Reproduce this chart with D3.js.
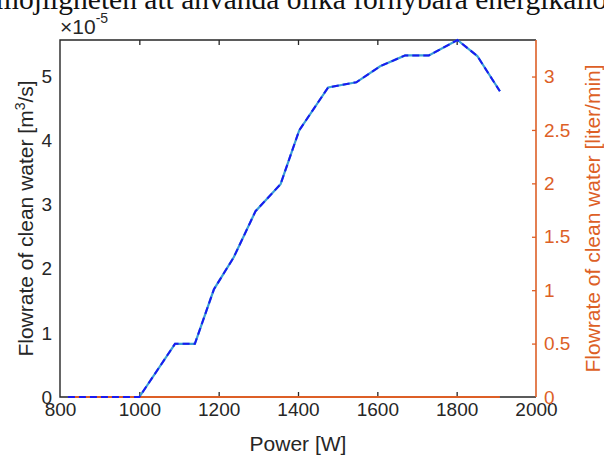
<!DOCTYPE html>
<html>
<head>
<meta charset="utf-8">
<script src="https://cdn.jsdelivr.net/npm/d3@7"></script>
<style>
  body { margin: 0; background: #fff; }
  svg { display: block; }
</style>
</head>
<body>
<div id="Container"></div>
<script>
// power [W] and flowrate of clean water (x 1e-5 m3/s)
var power = [820, 1000, 1090, 1140, 1188, 1238, 1293, 1356, 1403, 1476, 1547, 1607, 1670, 1730, 1802, 1852, 1909];
var flow = [0, 0, 0.83, 0.83, 1.68, 2.18, 2.90, 3.32, 4.16, 4.83, 4.91, 5.16, 5.33, 5.33, 5.57, 5.32, 4.77];
// series on the right axis (sits on zero in the figure)
var flowRight = [0, 0, 0, 0, 0, 0, 0, 0, 0, 0, 0, 0, 0, 0, 0, 0, 0];

var xTicks = [800, 1000, 1200, 1400, 1600, 1800, 2000];
var yTicksL = [0, 1, 2, 3, 4, 5];
var yTicksR = [0, 0.5, 1, 1.5, 2, 2.5, 3];
var topText = "möjligheten att använda olika förnybara energikällor";

var W = 604, H = 456;
var m = { left: 60, right: 536, top: 40, bottom: 397 };
var orange = "#DD5F26", dark = "#262626";
var font = "'Liberation Sans', Arial, sans-serif";

var svg = d3.select("#Container").append("svg")
    .attr("width", W)
    .attr("height", H);

// piece of the surrounding page text, cut at the top
svg.append("text")
    .attr("x", -4)
    .attr("y", 9)
    .attr("font-family", "'Liberation Serif', 'Times New Roman', serif")
    .attr("font-size", 29.5)
    .attr("fill", "#111")
    .text(topText);

var x = d3.scaleLinear().domain([800, 2000]).range([m.left, m.right]);
var yL = d3.scaleLinear().domain([0, 5.57]).range([m.bottom, m.top]);
var yR = d3.scaleLinear().domain([0, 5.57 * 0.6]).range([m.bottom, m.top]);

// bottom axis: labels, ticks pointing in
var xAx = svg.append("g")
    .attr("transform", "translate(0," + m.bottom + ")")
    .call(d3.axisBottom(x).tickValues(xTicks).tickSize(-5).tickPadding(5).tickFormat(d3.format("d")));
xAx.select(".domain").remove();
xAx.selectAll("line").attr("stroke", dark).attr("stroke-width", 1.3);
xAx.selectAll("text")
    .attr("font-family", font).attr("font-size", 19).attr("fill", dark)
    .attr("dy", "0.71em").attr("y", 6);
xAx.selectAll(".tick").filter(function(d) { return d == 800 || d == 2000; }).select("line").remove();

// top ticks
var xTop = svg.append("g")
    .attr("transform", "translate(0," + m.top + ")")
    .call(d3.axisTop(x).tickValues(xTicks.slice(1, -1)).tickSize(-5).tickFormat(""));
xTop.select(".domain").remove();
xTop.selectAll("line").attr("stroke", dark).attr("stroke-width", 1.3);

// left axis labels
var yAx = svg.append("g")
    .attr("transform", "translate(" + m.left + ",0)")
    .call(d3.axisLeft(yL).tickValues(yTicksL).tickSize(0).tickPadding(8).tickFormat(d3.format("d")));
yAx.select(".domain").remove();
yAx.selectAll("text").attr("font-family", font).attr("font-size", 19).attr("fill", dark);

// right axis, orange
var yAxR = svg.append("g")
    .attr("transform", "translate(" + m.right + ",0)")
    .call(d3.axisRight(yR).tickValues(yTicksR).tickSize(-4).tickPadding(8).tickFormat(d3.format("~g")));
yAxR.select(".domain").remove();
yAxR.selectAll("line").attr("stroke", orange).attr("stroke-width", 1.3);
yAxR.selectAll("text").attr("font-family", font).attr("font-size", 19).attr("fill", orange);
yAxR.selectAll(".tick").filter(function(d) { return d == 0; }).select("line").remove();

// box
svg.append("path")
    .attr("d", "M" + m.right + "," + m.bottom + "H" + m.left + "V" + m.top + "H" + m.right)
    .attr("fill", "none").attr("stroke", dark).attr("stroke-width", 1.4);
svg.append("line")
    .attr("x1", m.right).attr("y1", m.top).attr("x2", m.right).attr("y2", m.bottom)
    .attr("stroke", orange).attr("stroke-width", 1.6);

// lines
var lineL = d3.line().x(function(d, i) { return x(power[i]); }).y(function(d) { return yL(d); });
var lineR = d3.line().x(function(d, i) { return x(power[i]); }).y(function(d) { return yR(d); });

svg.append("path")
    .datum(flow)
    .attr("d", lineL)
    .attr("fill", "none")
    .attr("stroke", "#3A9FD6")
    .attr("stroke-width", 2.2);

svg.append("path")
    .datum(flowRight)
    .attr("d", lineR)
    .attr("fill", "none")
    .attr("stroke", orange)
    .attr("stroke-width", 2);

svg.append("path")
    .datum(flow)
    .attr("d", lineL)
    .attr("fill", "none")
    .attr("stroke", "#1A1AF0")
    .attr("stroke-width", 2)
    .attr("stroke-dasharray", "7,4");

// exponent
var ex = svg.append("text")
    .attr("x", 60)
    .attr("y", 34)
    .attr("font-family", font)
    .attr("font-size", 21)
    .attr("fill", dark);
ex.append("tspan").text("\u00d710");
ex.append("tspan").attr("font-size", 14).attr("dy", -11).text("-5");

// axis titles
var tl = svg.append("text")
    .attr("transform", "translate(33," + ((m.top + m.bottom) / 2) + ") rotate(-90)")
    .attr("text-anchor", "middle")
    .attr("font-family", font)
    .attr("font-size", 21)
    .attr("fill", dark);
tl.append("tspan").text("Flowrate of clean water [m");
tl.append("tspan").attr("font-size", 14).attr("dy", -8).text("3");
tl.append("tspan").attr("dy", 8).text("/s]");

svg.append("text")
    .attr("transform", "translate(600," + ((m.top + m.bottom) / 2) + ") rotate(-90)")
    .attr("text-anchor", "middle")
    .attr("font-family", font)
    .attr("font-size", 21)
    .attr("fill", orange)
    .text("Flowrate of clean water [liter/min]");

svg.append("text")
    .attr("x", (m.left + m.right) / 2)
    .attr("y", 451)
    .attr("text-anchor", "middle")
    .attr("font-family", font)
    .attr("font-size", 21)
    .attr("fill", dark)
    .text("Power [W]");
</script>
</body>
</html>
